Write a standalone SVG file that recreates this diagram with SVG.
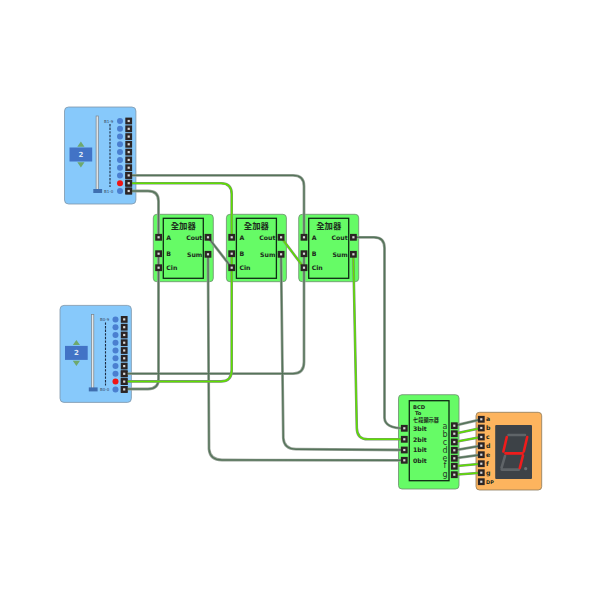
<svg xmlns="http://www.w3.org/2000/svg" width="600" height="600" viewBox="0 0 600 600">
<style>
text{font-family:"DejaVu Sans","Noto Sans CJK TC",sans-serif;fill:#1c2a1c}
.panel{fill:#87c9fb;stroke:#7f95a8;stroke-width:.8}
.chip{fill:#66fb66;stroke:#6e8a6e;stroke-width:.8}
.inner{fill:none;stroke:#0f2a14;stroke-width:1.3}
.t{font-size:6.2px;font-weight:700}
.h{font-size:8.4px;font-weight:700}
.s{font-size:4px;fill:#33475a}
.l{font-size:8px;fill:#2a3a2a}
.pin{fill:#2b2424}
.pc{fill:#d8d8d8}
.led{fill:#4a7fd0}
.track{fill:#e4e8ea;stroke:#7b8288;stroke-width:.7}
.box{fill:#4273c6}
.tri{fill:#6ea86e}
.handle{fill:#3f6fb0}
.w{fill:none;stroke:#98a298;stroke-width:2.8;stroke-linejoin:round}
.g{fill:none;stroke:#55745a;stroke-width:1.4}
.y{fill:none;stroke:#5fe000;stroke-width:1.5}
.b{fill:none;stroke:#7d8d7d;stroke-width:2.6}
.on,.off{fill:none;stroke-width:2.6;stroke-linecap:round}
.on{stroke:#ef1c1c}
.off{stroke:#5f6468}
</style>
<defs>
<g id="p"><rect x="-3.4" y="-3.4" width="6.8" height="6.8" class="pin"/><rect x="-1.1" y="-1.1" width="2.2" height="2.2" class="pc"/></g>
<g id="slider">
<rect x="0" y="0" width="71.4" height="97" rx="4" class="panel"/>
<rect x="31.6" y="9" width="2.2" height="74" class="track"/>
<rect x="28.8" y="82" width="8.8" height="4" class="handle"/>
<line x1="45.5" y1="17" x2="45.5" y2="80" stroke="#1c2c44" stroke-width="1.1" stroke-dasharray="2.4 1.2"/>
<rect x="5" y="40.5" width="22.7" height="14" class="box"/>
<path d="M16.4 34.5l3.6 5.2h-7.2zM16.4 60.5l3.6-5.2h-7.2z" class="tri"/>
<text x="16.4" y="50" text-anchor="middle" font-size="7" font-weight="700" style="fill:#dfe8f5">2</text>
<g class="led"><circle cx="55.5" cy="14" r="3"/><circle cx="55.5" cy="21.8" r="3"/><circle cx="55.5" cy="29.6" r="3"/><circle cx="55.5" cy="37.3" r="3"/><circle cx="55.5" cy="45.1" r="3"/><circle cx="55.5" cy="52.9" r="3"/><circle cx="55.5" cy="60.7" r="3"/><circle cx="55.5" cy="68.4" r="3"/><circle cx="55.5" cy="76.2" r="3" fill="#f01414"/><circle cx="55.5" cy="84" r="3"/></g>
<use href="#p" x="64.2" y="14"/><use href="#p" x="64.2" y="21.8"/><use href="#p" x="64.2" y="29.6"/><use href="#p" x="64.2" y="37.3"/><use href="#p" x="64.2" y="45.1"/><use href="#p" x="64.2" y="52.9"/><use href="#p" x="64.2" y="60.7"/><use href="#p" x="64.2" y="68.4"/><use href="#p" x="64.2" y="76.2"/><use href="#p" x="64.2" y="84"/>
</g>
<g id="adder">
<rect x="0" y="0" width="60" height="67.4" rx="3.5" class="chip"/>
<rect x="10" y="4" width="40" height="60" class="inner"/>
<text x="30" y="14.5" text-anchor="middle" class="h">全加器</text>
<text x="13" y="25.5" class="t">A</text><text x="13" y="42" class="t">B</text><text x="13" y="56" class="t">Cin</text>
<text x="49" y="25.5" text-anchor="end" class="t">Cout</text><text x="49" y="42.5" text-anchor="end" class="t">Sum</text>
</g>
<g id="adder-pins">
<use href="#p" x="5.3" y="23"/><use href="#p" x="5.3" y="39.4"/><use href="#p" x="5.3" y="53.4"/><use href="#p" x="54.7" y="23"/><use href="#p" x="54.7" y="40"/>
</g>
</defs>
<g id="slider-top"><use href="#slider" x="64.5" y="107"/><text x="104" y="122.5" class="s">B1-9</text><text x="104" y="192.5" class="s">B1-0</text></g>
<g id="slider-bottom"><use href="#slider" x="60" y="305.4"/><text x="100" y="320.8" class="s">B0-9</text><text x="100" y="390.8" class="s">B0-0</text></g>
<g id="adder-1"><use href="#adder" x="153.3" y="214.3"/></g>
<g id="adder-2"><use href="#adder" x="226.4" y="214.3"/></g>
<g id="adder-3"><use href="#adder" x="298.7" y="214.3"/></g>
<g id="bcd">
<rect x="398.5" y="394.7" width="60.5" height="94.3" rx="3.5" class="chip"/>
<rect x="409.3" y="400.7" width="39.7" height="80" class="inner"/>
<text x="413" y="408.5" font-size="5.2" font-weight="700">BCD</text>
<text x="415" y="415" font-size="5.2" font-weight="700">To</text>
<text x="413" y="421.5" font-size="5.2" font-weight="700">七段顯示器</text>
<text x="413" y="431" class="t">3bit</text><text x="413" y="441.5" class="t">2bit</text><text x="413" y="452" class="t">1bit</text><text x="413" y="462.5" class="t">0bit</text>
<text x="445" y="428.5" text-anchor="middle" class="l">a</text><text x="445" y="436.5" text-anchor="middle" class="l">b</text><text x="445" y="444.5" text-anchor="middle" class="l">c</text><text x="445" y="452.5" text-anchor="middle" class="l">d</text><text x="445" y="460.5" text-anchor="middle" class="l">e</text><text x="445" y="468" text-anchor="middle" class="l">f</text><text x="445" y="476.5" text-anchor="middle" class="l">g</text>
</g>
<g id="seven-seg">
<rect x="476" y="412.3" width="65.7" height="77.7" rx="3.5" fill="#fdb45e" stroke="#8a7a5a" stroke-width=".8"/>
<rect x="495.2" y="425" width="36.8" height="54" rx="1" fill="#3d4247"/>
<path d="M508.5 435H525M501.7 469.6H519M505 456L501.6 467.7" class="off"/>
<circle cx="525.7" cy="468.7" r="1.6" fill="#6a6f73"/>
<path d="M527.2 437L523.8 451.5M506.8 437L503.4 451.5M505.5 453.4H522.5M523 455.5L519.8 468" class="on"/>
<text x="486" y="421.3" class="t">a</text><text x="486" y="430" class="t">b</text><text x="486" y="439" class="t">c</text><text x="486" y="447.7" class="t">d</text><text x="486" y="456.7" class="t">e</text><text x="486" y="465.7" class="t">f</text><text x="486" y="474.7" class="t">g</text><text x="486" y="483.7" style="font-size:5px;font-weight:700">DP</text>
</g>
<g id="connectors">
<g class="w">
<path d="M128.7 191H148Q158.5 191 158.5 201V237.3"/>
<path d="M128.7 175.4H293Q304 175.4 304 186V237.3"/>
<path d="M124 389H148Q158.5 389 158.5 379V253.7"/>
<path d="M124 373.6H293Q304 373.6 304 362V253.7"/>
<path d="M208 237.3L231.7 267.7"/>
<path d="M353.3 237.3H374Q384.5 237.3 384.5 248V418Q385 428.3 404.3 428.3"/>
<path d="M281 254.3L283.3 438Q284 449 296 449.2L404.3 450"/>
<path d="M208 254.3L209 449Q210 460 222 460L404.3 460.3"/>
<path d="M454.3 425.7L481.3 419.3M454.3 450.3L481.3 445.7M454.3 458.3L481.3 454.7"/>
</g>
<g class="g">
<path d="M128.7 191H148Q158.5 191 158.5 201V237.3"/>
<path d="M128.7 175.4H293Q304 175.4 304 186V237.3"/>
<path d="M124 389H148Q158.5 389 158.5 379V253.7"/>
<path d="M124 373.6H293Q304 373.6 304 362V253.7"/>
<path d="M208 237.3L231.7 267.7"/>
<path d="M353.3 237.3H374Q384.5 237.3 384.5 248V418Q385 428.3 404.3 428.3"/>
<path d="M281 254.3L283.3 438Q284 449 296 449.2L404.3 450"/>
<path d="M208 254.3L209 449Q210 460 222 460L404.3 460.3"/>
<path d="M454.3 425.7L481.3 419.3M454.3 450.3L481.3 445.7M454.3 458.3L481.3 454.7"/>
</g>
<g class="b">
<path d="M128.7 183.2H221Q231.7 183.2 231.7 194V237.3"/>
<path d="M124 381.4H221Q231.7 381.4 231.7 370V253.7"/>
<path d="M281 237.3L304 267.7"/>
<path d="M353.3 254.3L356.8 428Q357 439.3 368 439.3H404.3"/>
<path d="M454.3 433.7L481.3 428M454.3 442L481.3 437M454.3 466.3L481.3 463.7M454.3 474.7L481.3 472.7"/>
</g>
<g class="y">
<path d="M128.7 183.2H221Q231.7 183.2 231.7 194V237.3"/>
<path d="M124 381.4H221Q231.7 381.4 231.7 370V253.7"/>
<path d="M281 237.3L304 267.7"/>
<path d="M353.3 254.3L356.8 428Q357 439.3 368 439.3H404.3"/>
<path d="M454.3 433.7L481.3 428M454.3 442L481.3 437M454.3 466.3L481.3 463.7M454.3 474.7L481.3 472.7"/>
</g>
</g>
<g id="pins">
<use href="#adder-pins" x="153.3" y="214.3"/><use href="#adder-pins" x="226.4" y="214.3"/><use href="#adder-pins" x="298.7" y="214.3"/>
<use href="#p" x="404.3" y="428.3"/><use href="#p" x="404.3" y="439.3"/><use href="#p" x="404.3" y="450"/><use href="#p" x="404.3" y="460.3"/>
<use href="#p" x="454.3" y="425.7"/><use href="#p" x="454.3" y="433.7"/><use href="#p" x="454.3" y="442"/><use href="#p" x="454.3" y="450.3"/><use href="#p" x="454.3" y="458.3"/><use href="#p" x="454.3" y="466.3"/><use href="#p" x="454.3" y="474.7"/>
<use href="#p" x="481.3" y="419.3"/><use href="#p" x="481.3" y="428"/><use href="#p" x="481.3" y="437"/><use href="#p" x="481.3" y="445.7"/><use href="#p" x="481.3" y="454.7"/><use href="#p" x="481.3" y="463.7"/><use href="#p" x="481.3" y="472.7"/><use href="#p" x="481.3" y="481.7"/>
<use href="#p" x="128.7" y="175.4"/><use href="#p" x="128.7" y="183.2"/><use href="#p" x="128.7" y="191"/><use href="#p" x="124.2" y="373.8"/><use href="#p" x="124.2" y="381.6"/><use href="#p" x="124.2" y="389.4"/>
</g>
</svg>
